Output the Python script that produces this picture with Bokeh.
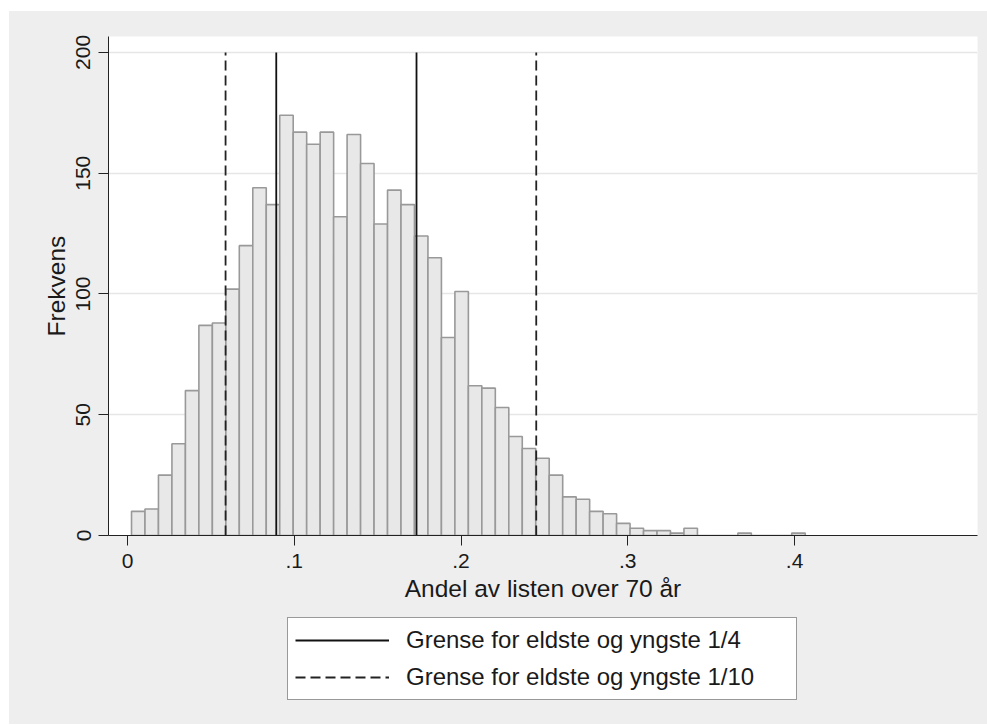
from bokeh.plotting import figure
from bokeh.layouts import column
from bokeh.models import Range1d, FixedTicker, Legend, LegendItem
from bokeh.embed import file_html
from bokeh.resources import INLINE

# ---- data ----
counts = [10, 11, 25, 38, 60, 87, 88, 102, 120, 144,
          137, 174, 167, 162, 167, 132, 166, 154, 129, 143,
          137, 124, 115, 82, 101, 62, 61, 53, 41, 36,
          32, 25, 16, 15, 10, 9, 5, 3, 2, 2,
          1, 3, 0, 0, 0, 1, 0, 0, 0, 1]
bin_start = 0.0024
bin_width = 0.00808
quarter_limits = [0.0892, 0.1733]
decile_limits = [0.0588, 0.2451]
x_ticks = [0, 0.1, 0.2, 0.3, 0.4]
x_tick_labels = ["0", ".1", ".2", ".3", ".4"]
y_ticks = [0, 50, 100, 150, 200]
line_top = 200
label_quarter = "Grense for eldste og yngste 1/4"
label_decile = "Grense for eldste og yngste 1/10"

lefts = [bin_start + i * bin_width for i in range(len(counts))]
rights = [l + bin_width for l in lefts]

FONT = "Liberation Sans"
TXT = "#1a1a1a"
BG = "#eeeeee"

p = figure(frame_width=869, frame_height=499, output_backend="svg", toolbar_location=None,
           x_range=Range1d(-0.0114, 0.5097), y_range=Range1d(0, 206.6),
           min_border_left=99, min_border_right=10, min_border_top=25,
           min_border_bottom=76)
p.background_fill_color = "white"
p.border_fill_color = BG
p.outline_line_color = None

p.quad(left=lefts, right=rights, bottom=0, top=counts,
       fill_color="#e8e8e8", line_color="#999999", line_width=1.6)

solid_style = dict(line_color="#111111", line_width=1.8)
dash_style = dict(line_color="#222222", line_width=1.8, line_dash="10 5")
p.segment(x0=quarter_limits, x1=quarter_limits, y0=0, y1=line_top, **solid_style)
p.segment(x0=decile_limits, x1=decile_limits, y0=0, y1=line_top, **dash_style)

# axes
p.xaxis.ticker = FixedTicker(ticks=x_ticks)
p.xaxis.major_label_overrides = {t: l for t, l in zip(x_ticks, x_tick_labels)}
p.yaxis.ticker = FixedTicker(ticks=y_ticks)
p.xaxis.axis_label = "Andel av listen over 70 år"
p.yaxis.axis_label = "Frekvens"
for ax in (p.xaxis, p.yaxis):
    ax.axis_line_color = "#222222"
    ax.major_tick_line_color = "#222222"
    ax.major_tick_out = 10
    ax.major_tick_in = 0
    ax.minor_tick_line_color = None
    ax.major_label_text_font = FONT
    ax.major_label_text_font_size = "21px"
    ax.major_label_text_color = TXT
    ax.axis_label_text_font = FONT
    ax.axis_label_text_font_size = "24.5px"
    ax.axis_label_text_font_style = "normal"
    ax.axis_label_text_color = TXT
    ax.major_label_standoff = 8
    ax.axis_label_standoff = 4
p.yaxis.major_label_orientation = "parallel"

p.xgrid.grid_line_color = None
p.ygrid.ticker = FixedTicker(ticks=y_ticks)
p.ygrid.grid_line_color = "#e6e6e6"
p.ygrid.grid_line_width = 1.5

# legend strip below the plot (its lines lie outside the strip's visible range)
q = figure(frame_width=869, height=113, output_backend="svg", toolbar_location=None,
           x_range=Range1d(-0.0114, 0.5097), y_range=Range1d(-20, -10),
           min_border_left=99, min_border_right=10, min_border_top=0,
           min_border_bottom=0)
q.background_fill_color = BG
q.border_fill_color = BG
q.outline_line_color = None
q.axis.visible = False
q.grid.visible = False
l1 = q.segment(x0=quarter_limits, x1=quarter_limits, y0=0, y1=line_top, **solid_style)
l2 = q.segment(x0=decile_limits, x1=decile_limits, y0=0, y1=line_top, **dash_style)

legend = Legend(items=[LegendItem(label=label_quarter, renderers=[l1]),
                       LegendItem(label=label_decile, renderers=[l2])],
                location=(179, 24), orientation="vertical")
legend.label_text_font = FONT
legend.label_text_font_size = "24px"
legend.label_text_color = TXT
legend.glyph_width = 94
legend.glyph_height = 30
legend.label_height = 30
legend.label_width = 383
legend.spacing = 7
legend.padding = 7
legend.margin = 0
legend.label_standoff = 17
legend.border_line_color = "#333333"
legend.border_line_width = 1
legend.background_fill_color = "white"
legend.background_fill_alpha = 1
q.add_layout(legend)

layout = column(p, q, spacing=0, margin=(11, 0, 0, 9),
                styles={"background-color": BG})
open("out.html", "w").write(file_html(layout, INLINE))
